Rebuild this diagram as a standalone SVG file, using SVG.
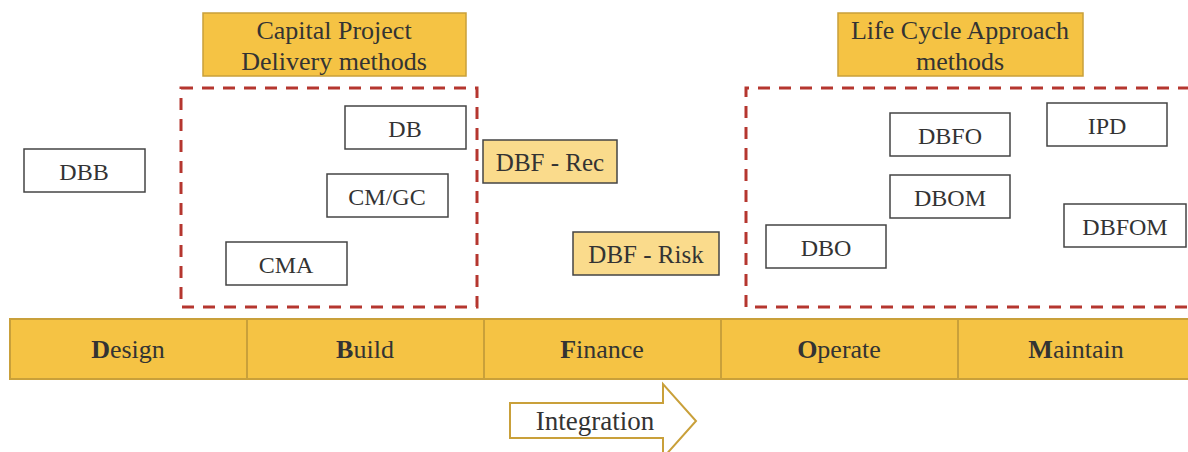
<svg xmlns="http://www.w3.org/2000/svg" width="1188" height="452" viewBox="0 0 1188 452">
<style>
text{font-family:"Liberation Serif","DejaVu Serif",serif;fill:#333;text-anchor:middle;font-size:24px}
.h{font-size:26px}
.p{font-size:26px}
.hdr{fill:#F5C344;stroke:#C9A03A;stroke-width:1.5}
.box{fill:#fff;stroke:#444;stroke-width:1.5}
.lbox{fill:#FADB8C;stroke:#444;stroke-width:1.5}
.dash{fill:none;stroke:#B5362F;stroke-width:3;stroke-dasharray:12 9}
.cell{fill:#F5C344;stroke:#C9A03A;stroke-width:2}
.b{font-weight:bold}
</style>
<rect width="1188" height="452" fill="#fff"/>
<g id="group-capital">
<rect class="dash" x="181" y="88" width="296" height="219"/>
<rect class="hdr" x="203" y="13" width="263" height="63"/>
<text class="h" x="334" y="39">Capital Project</text>
<text class="h" x="334" y="70">Delivery methods</text>
</g>
<g id="group-lifecycle">
<path class="dash" d="M1190 88 H746 V307 H1190"/>
<rect class="hdr" x="838" y="13" width="245" height="63"/>
<text class="h" x="960" y="39">Life Cycle Approach</text>
<text class="h" x="960" y="70">methods</text>
</g>
<g id="node-dbb"><rect class="box" x="24" y="149" width="121" height="43"/><text x="84" y="180">DBB</text></g>
<g id="node-db"><rect class="box" x="345" y="106" width="121" height="43"/><text x="405" y="137">DB</text></g>
<g id="node-cmgc"><rect class="box" x="327" y="174" width="121" height="43"/><text x="387" y="205">CM/GC</text></g>
<g id="node-cma"><rect class="box" x="226" y="242" width="121" height="43"/><text x="286" y="273">CMA</text></g>
<g id="node-dbfrec"><rect class="lbox" x="483" y="140" width="134" height="43"/><text x="550" y="171" style="font-size:25px">DBF - Rec</text></g>
<g id="node-dbfrisk"><rect class="lbox" x="573" y="232" width="146" height="43"/><text x="646" y="263" style="font-size:25px">DBF - Risk</text></g>
<g id="node-dbo"><rect class="box" x="766" y="225" width="120" height="43"/><text x="826" y="256">DBO</text></g>
<g id="node-dbfo"><rect class="box" x="890" y="113" width="120" height="43"/><text x="950" y="144">DBFO</text></g>
<g id="node-dbom"><rect class="box" x="890" y="175" width="120" height="43"/><text x="950" y="206">DBOM</text></g>
<g id="node-ipd"><rect class="box" x="1047" y="103" width="120" height="43"/><text x="1107" y="134">IPD</text></g>
<g id="node-dbfom"><rect class="box" x="1064" y="204" width="122" height="43"/><text x="1125" y="235">DBFOM</text></g>
<g id="phase-bar">
<rect class="cell" x="10" y="319" width="237" height="60"/>
<rect class="cell" x="247" y="319" width="237" height="60"/>
<rect class="cell" x="484" y="319" width="237" height="60"/>
<rect class="cell" x="721" y="319" width="237" height="60"/>
<rect class="cell" x="958" y="319" width="232" height="60"/>
<text class="p" x="128" y="358"><tspan class="b">D</tspan>esign</text>
<text class="p" x="365" y="358"><tspan class="b">B</tspan>uild</text>
<text class="p" x="602" y="358"><tspan class="b">F</tspan>inance</text>
<text class="p" x="839" y="358"><tspan class="b">O</tspan>perate</text>
<text class="p" x="1076" y="358"><tspan class="b">M</tspan>aintain</text>
</g>
<g id="node-integration">
<path d="M510 403 H663 V384 L696 421 L663 458 V438 H510 Z" fill="#fff" stroke="#C9A03A" stroke-width="2"/>
<text x="595" y="430" style="font-size:27px">Integration</text>
</g>
<g id="connectors"/>
</svg>
